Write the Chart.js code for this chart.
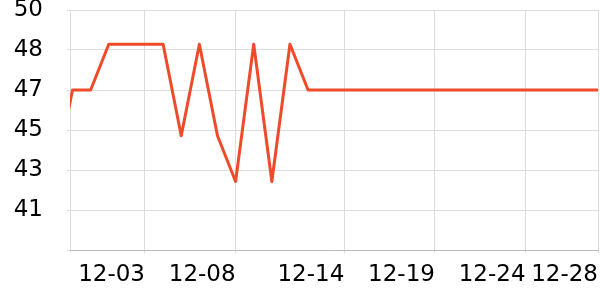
<!DOCTYPE html>
<html><head><meta charset="utf-8">
<script src="https://cdn.jsdelivr.net/npm/chart.js@4"></script>
<style>html,body{margin:0;padding:0;background:#fff}#wrap{width:600px;height:300px}</style>
</head><body><div id="wrap"><canvas id="c" width="600" height="300"></canvas></div>
<script>
const dates = ['11-28','11-29','11-30','12-01','12-02','12-03','12-04','12-05','12-06','12-07','12-08','12-09','12-10','12-11','12-12','12-13','12-14','12-15','12-16','12-17','12-18','12-19','12-20','12-21','12-22','12-23','12-24','12-25','12-26','12-27','12-28'];
const values = [42.5,46.5,46.5,48.5,48.5,48.5,48.5,44.5,48.5,44.5,42.5,48.5,42.5,48.5,46.5,46.5,46.5,46.5,46.5,46.5,46.5,46.5,46.5,46.5,46.5,46.5,46.5,46.5,46.5,46.5,46.5];
const xTickLabels = ['12-03','12-08','12-14','12-19','12-24','12-28'];
const yTickValues = [39.5,41.25,43,44.75,46.5,48.25,50];
const yTickLabels = ['','41','43','45','47','48','50'];
const axisStartBefore = 0.139; // days before '11-29' where the x axis starts
const origin = dates.indexOf('12-01');
const pts = dates.map((d,i)=>({x:i-origin, y:values[i]}));
const xTickVals = xTickLabels.map(l=>dates.indexOf(l)-origin);
const xMin = dates.indexOf('11-29')-origin - axisStartBefore;
const xMax = dates.indexOf('12-28')-origin;
const yFont = {family:'DejaVu Sans', size:23};
const xFont = {family:'DejaVu Sans', size:23};
new Chart(document.getElementById('c'), {
  type:'line',
  data:{datasets:[{data:pts, borderColor:'#ee4b2b', borderWidth:3, borderJoinStyle:'round', pointRadius:0, tension:0, fill:false}]},
  options:{
    responsive:false, animation:false, devicePixelRatio:1,
    layout:{padding:{top:10,right:2,left:0,bottom:0}},
    plugins:{legend:{display:false}, tooltip:{enabled:false}},
    scales:{
      x:{type:'linear', min:xMin, max:xMax,
        afterBuildTicks:s=>{s.ticks=[{value:xMin}].concat(xTickVals.map(v=>({value:v})));},
        afterFit:s=>{s.height=50;s.paddingLeft=0;s.paddingRight=0;},
        grid:{color:'#dddddd', tickLength:3},
        border:{color:'#bbbbbb'},
        ticks:{font:xFont, color:'#000', align:'end', padding:8, maxRotation:0, autoSkip:false,
          callback:(v,i)=> i===0 ? '' : xTickLabels[i-1]}
      },
      y:{type:'linear', min:yTickValues[0], max:yTickValues[yTickValues.length-1],
        afterBuildTicks:s=>{s.ticks=yTickValues.map(v=>({value:v}));},
        afterFit:s=>{s.width=70;s.paddingTop=0;s.paddingBottom=0;},
        grid:{color:'#dddddd', tickLength:3},
        border:{display:false},
        ticks:{font:yFont, color:'#000', padding:24, autoSkip:false,
          callback:(v,i)=>yTickLabels[i]}
      }
    }
  }
});
</script></body></html>
